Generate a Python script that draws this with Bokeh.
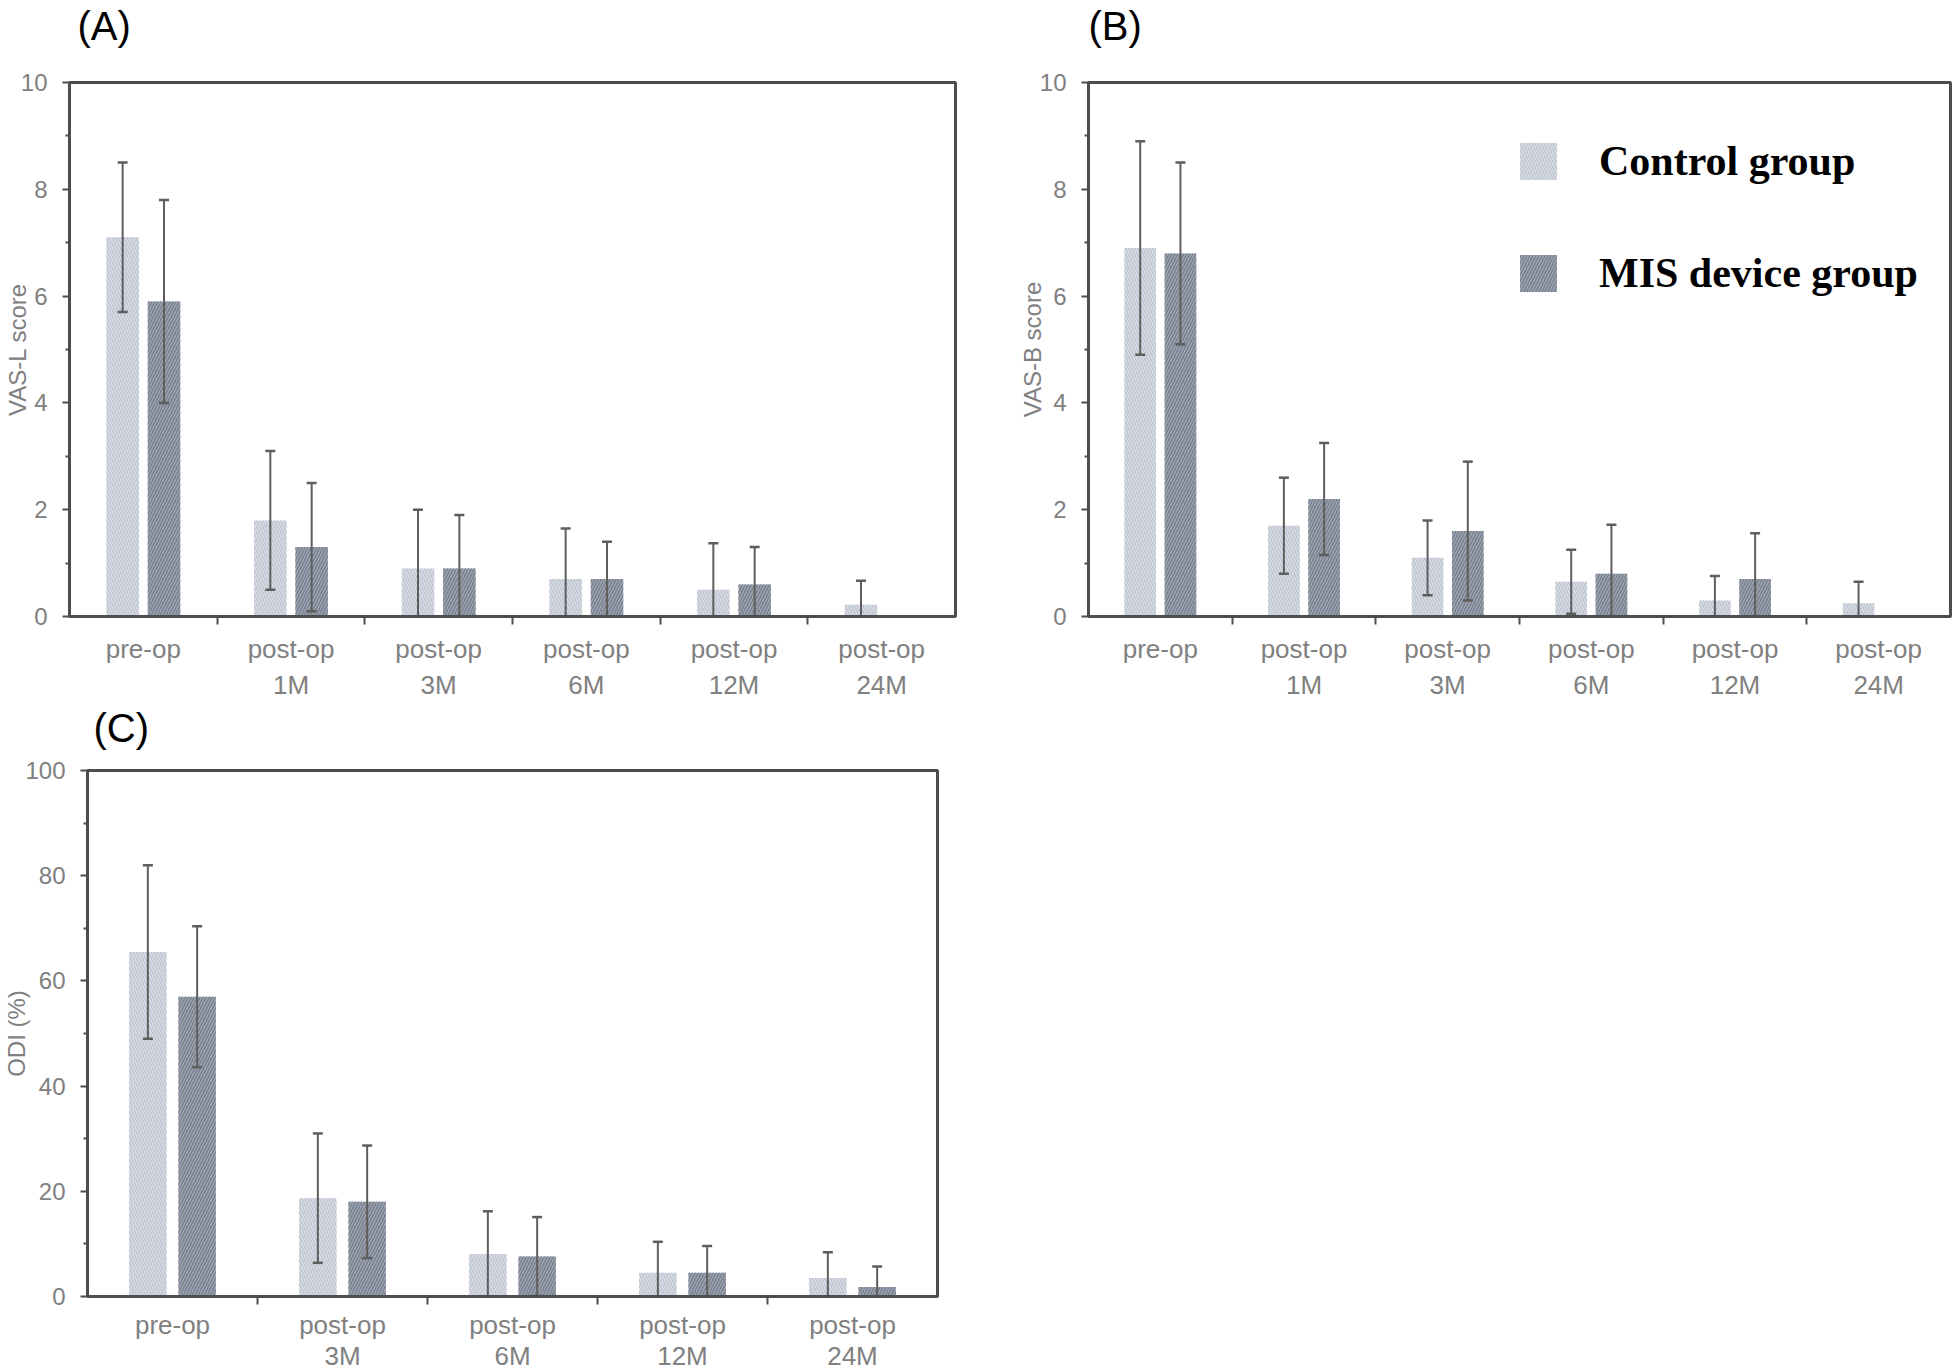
from bokeh.plotting import figure
from bokeh.layouts import column, row
from bokeh.models import Range1d, FixedTicker, Legend, LegendItem
from bokeh.embed import file_html
from bokeh.resources import INLINE

NAN = float("nan")

# ---------------- data ----------------
cats_vas = ["pre-op", "post-op\n1M", "post-op\n3M", "post-op\n6M", "post-op\n12M", "post-op\n24M"]
cats_odi = ["pre-op", "post-op\n3M", "post-op\n6M", "post-op\n12M", "post-op\n24M"]

vasl_ctrl_mean = [7.1, 1.8, 0.9, 0.7, 0.5, 0.22]
vasl_ctrl_sd = [1.4, 1.3, 1.1, 0.95, 0.87, 0.45]
vasl_mis_mean = [5.9, 1.3, 0.9, 0.7, 0.6, NAN]
vasl_mis_sd = [1.9, 1.2, 1.0, 0.7, 0.7, NAN]

vasb_ctrl_mean = [6.9, 1.7, 1.1, 0.65, 0.3, 0.25]
vasb_ctrl_sd = [2.0, 0.9, 0.7, 0.6, 0.46, 0.4]
vasb_mis_mean = [6.8, 2.2, 1.6, 0.8, 0.7, NAN]
vasb_mis_sd = [1.7, 1.05, 1.3, 0.92, 0.86, NAN]

odi_ctrl_mean = [65.5, 18.7, 8.1, 4.5, 3.5]
odi_ctrl_sd = [16.5, 12.3, 8.1, 5.9, 4.9]
odi_mis_mean = [57.0, 18.0, 7.6, 4.5, 1.8]
odi_mis_sd = [13.4, 10.7, 7.5, 5.1, 3.9]

group_names = ["Control group", "MIS device group"]

# ---------------- styles ----------------
AX = "#4d4d4d"
TXT = "#808080"
CTRL_FILL, CTRL_HATCH = "#dde1e9", "#bcc3cf"
MIS_FILL, MIS_HATCH = "#a0a7b4", "#78808f"
ERR = "#5e5e5e"
FONT = "Liberation Sans"


def panel(cats, cm, cs, mm, ms, ymax, majors, minors, ylabel, tag,
          mb, frame_w, frame_h, off, bw, ylab_standoff,
          tag_offset, tag_lh, xlab_lh, xlab_standoff, legend=False):
    n = len(cats)
    p = figure(width=mb[0] + frame_w + mb[1], height=mb[2] + frame_h + mb[3],
               output_backend="svg", toolbar_location=None,
               x_range=Range1d(0, n), y_range=Range1d(0, ymax),
               min_border_left=mb[0], min_border_right=mb[1],
               min_border_top=mb[2], min_border_bottom=mb[3])
    p.frame_width = frame_w
    p.frame_height = frame_h
    p.xgrid.visible = False
    p.ygrid.visible = False
    p.background_fill_color = "white"
    p.border_fill_color = "white"
    p.outline_line_color = AX
    p.outline_line_width = 3

    # panel tag as title (an empty second line keeps it up at the top of the border)
    p.title.text = tag + "\n\u00a0"
    p.title.text_font = FONT
    p.title.text_font_size = "40px"
    p.title.text_font_style = "normal"
    p.title.text_color = "black"
    p.title.text_line_height = tag_lh
    p.title.align = "left"
    p.title.vertical_align = "top"
    p.title.offset = tag_offset
    p.title.standoff = 0

    centers = [i + 0.5 for i in range(n)]
    xc = [c - off for c in centers]
    xm = [c + off for c in centers]

    r1 = p.vbar(x=xc, top=cm, width=bw, bottom=0, fill_color=CTRL_FILL, line_color=None,
                hatch_pattern="left_diagonal_line", hatch_color=CTRL_HATCH,
                hatch_scale=6, hatch_weight=1.5)
    r2 = p.vbar(x=xm, top=mm, width=bw, bottom=0, fill_color=MIS_FILL, line_color=None,
                hatch_pattern="right_diagonal_line", hatch_color=MIS_HATCH,
                hatch_scale=6, hatch_weight=1.5)

    for xs, mean, sd in ((xc, cm, cs), (xm, mm, ms)):
        lo = [m - s for m, s in zip(mean, sd)]
        hi = [m + s for m, s in zip(mean, sd)]
        p.segment(x0=xs, y0=lo, x1=xs, y1=hi, line_color=ERR, line_width=2)
        p.scatter(x=xs, y=hi, marker="dash", size=10, line_color=ERR, line_width=2.5)
        p.scatter(x=xs, y=lo, marker="dash", size=10, line_color=ERR, line_width=2.5)

    # x axis: labels at category centres, ticks at category boundaries
    xa = p.xaxis[0]
    xa.ticker = FixedTicker(ticks=centers, minor_ticks=list(range(1, n)))
    xa.major_label_overrides = {c: lab for c, lab in zip(centers, cats)}
    xa.major_tick_out = 0
    xa.major_tick_in = 0
    xa.minor_tick_out = 8
    xa.minor_tick_in = 0
    xa.minor_tick_line_color = AX
    xa.minor_tick_line_width = 2
    xa.axis_line_color = AX
    xa.axis_line_width = 3
    xa.major_label_text_font = FONT
    xa.major_label_text_font_size = "26px"
    xa.major_label_text_color = TXT
    xa.major_label_text_line_height = xlab_lh
    xa.major_label_standoff = xlab_standoff

    # y axis
    ya = p.yaxis[0]
    ya.ticker = FixedTicker(ticks=majors, minor_ticks=minors)
    ya.major_tick_out = 7
    ya.major_tick_in = 0
    ya.minor_tick_out = 4
    ya.minor_tick_in = 0
    ya.major_tick_line_color = AX
    ya.minor_tick_line_color = AX
    ya.major_tick_line_width = 2
    ya.minor_tick_line_width = 2
    ya.axis_line_color = AX
    ya.axis_line_width = 3
    ya.major_label_text_font = FONT
    ya.major_label_text_font_size = "24px"
    ya.major_label_text_color = TXT
    ya.major_label_standoff = 15
    ya.axis_label = ylabel
    ya.axis_label_text_font = FONT
    ya.axis_label_text_font_size = "24px"
    ya.axis_label_text_font_style = "normal"
    ya.axis_label_text_color = TXT
    ya.axis_label_standoff = ylab_standoff

    if legend:
        lg = Legend(items=[LegendItem(label=group_names[0], renderers=[r1]),
                           LegendItem(label=group_names[1], renderers=[r2])],
                    location=(427, 319), orientation="vertical",
                    glyph_width=46, glyph_height=46, label_height=46,
                    label_standoff=38, spacing=64, padding=0, margin=0,
                    border_line_color=None, background_fill_alpha=0,
                    label_text_font="Liberation Serif", label_text_font_style="bold",
                    label_text_font_size="42px", label_text_color="black")
        p.add_layout(lg, "center")
    return p


pA = panel(cats_vas, vasl_ctrl_mean, vasl_ctrl_sd, vasl_mis_mean, vasl_mis_sd,
           10, [0, 2, 4, 6, 8, 10], [1, 3, 5, 7, 9], "VAS-L score", "(A)",
           mb=(67, 47, 82, 84), frame_w=886, frame_h=534, off=0.14, bw=0.22,
           ylab_standoff=-13, tag_offset=8, tag_lh=0.74, xlab_lh=1.2, xlab_standoff=9)

pB = panel(cats_vas, vasb_ctrl_mean, vasb_ctrl_sd, vasb_mis_mean, vasb_mis_sd,
           10, [0, 2, 4, 6, 8, 10], [1, 3, 5, 7, 9], "VAS-B score", "(B)",
           mb=(86, 12, 82, 84), frame_w=862, frame_h=534, off=0.14, bw=0.22,
           ylab_standoff=-9, tag_offset=0, tag_lh=0.74, xlab_lh=1.2, xlab_standoff=9,
           legend=True)

pC = panel(cats_odi, odi_ctrl_mean, odi_ctrl_sd, odi_mis_mean, odi_mis_sd,
           100, [0, 20, 40, 60, 80, 100], [10, 30, 50, 70, 90], "ODI (%)", "(C)",
           mb=(84, 20, 68, 76), frame_w=850, frame_h=526, off=0.145, bw=0.22,
           ylab_standoff=-8, tag_offset=6, tag_lh=0.44, xlab_lh=1.05, xlab_standoff=5)

layout = column(row(pA, pB), pC)
open("out.html", "w").write(file_html(layout, INLINE))
